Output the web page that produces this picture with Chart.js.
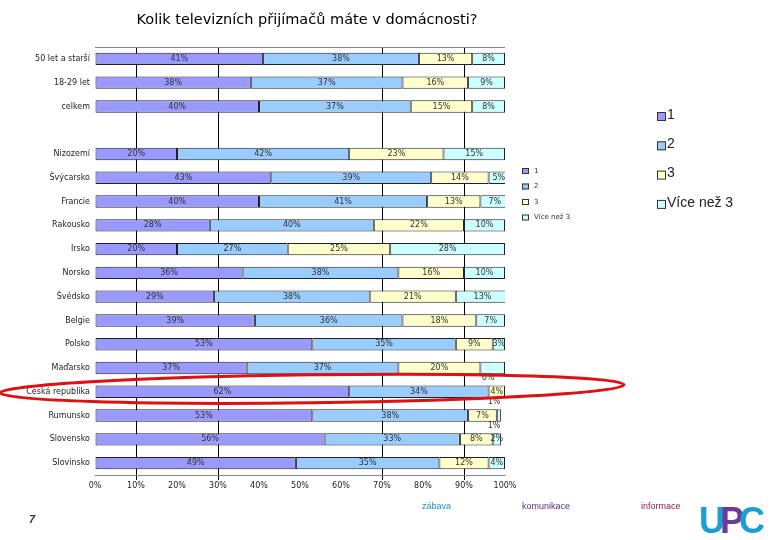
<!DOCTYPE html>
<html>
<head>
<meta charset="utf-8">
<script src="https://cdn.jsdelivr.net/npm/chart.js@4"></script>
<style>
  body { margin: 0; background: #fff; }
  #wrap { position: relative; width: 780px; height: 540px; }
  .foot { position: absolute; font: 9px "Liberation Sans Narrow", "Liberation Sans", sans-serif; }
  #logo { position: absolute; left: 699px; top: 500px; font: 900 36px "Liberation Sans", sans-serif; letter-spacing: -5px; }
</style>
</head>
<body>
<div id="wrap">
  <canvas id="tvchart" width="780" height="540"></canvas>
  <div class="foot" style="left:422px;top:501px;color:#1b94c4">zábava</div>
  <div class="foot" style="left:522px;top:501px;color:#5a2d82">komunikace</div>
  <div class="foot" style="left:641px;top:501px;color:#8c1d4f">informace</div>
  <div class="foot" style="left:29px;top:513px;color:#3b2a78;font:italic bold 11px 'Liberation Sans',sans-serif">7</div>
  <div id="logo"><span style="color:#1a9fd3">U</span><span style="color:#6b3b98">P</span><span style="color:#1a9fd3">C</span></div>
</div>
<script>
const categories = ['50 let a starší', '18-29 let', 'celkem', '', 'Nizozemí', 'Švýcarsko', 'Francie', 'Rakousko',
    'Irsko', 'Norsko', 'Švédsko', 'Belgie', 'Polsko', 'Maďarsko', 'Česká republika', 'Rumunsko', 'Slovensko', 'Slovinsko'];
const one   = [41, 38, 40, null, 20, 43, 40, 28, 20, 36, 29, 39, 53, 37, 62, 53, 56, 49];
const two   = [38, 37, 37, null, 42, 39, 41, 40, 27, 38, 38, 36, 35, 37, 34, 38, 33, 35];
const three = [13, 16, 15, null, 23, 14, 13, 22, 25, 16, 21, 18, 9, 20, 4, 7, 8, 12];
const more  = [8, 9, 8, null, 15, 5, 7, 10, 28, 10, 13, 7, 3, 6, 1, 1, 2, 4];
const seriesNames = ['1', '2', '3', 'Více než 3'];
const xTicks = [0, 10, 20, 30, 40, 50, 60, 70, 80, 90, 100];
const gridAt = [10, 30, 70, 90];
const labelBelow = ['Maďarsko', 'Česká republika', 'Rumunsko'];
const highlighted = 'Česká republika';

const colors = ['#9999ff', '#99ccff', '#ffffcc', '#ccffff'];

// percent labels inside the segments
const segmentLabels = {
    id: 'segmentLabels',
    afterDatasetsDraw(chart) {
        const c = chart.ctx;
        c.save();
        c.font = '8px "DejaVu Sans"';
        c.fillStyle = '#333';
        c.textAlign = 'center';
        c.textBaseline = 'middle';
        chart.data.datasets.forEach((ds, di) => {
            chart.getDatasetMeta(di).data.forEach((bar, i) => {
                const v = ds.data[i];
                if (v == null) return;
                let x = (bar.x + bar.base) / 2, y = bar.y;
                if (di === 3 && labelBelow.includes(categories[i])) {
                    x = Math.min(bar.x, 500) - (v > 3 ? 12 : 6);
                    y = bar.y + 10;
                }
                c.fillText(v + '%', x, y);
            });
        });
        c.restore();
    }
};

// title, top border, legends and the red ellipse
const extras = {
    id: 'extras',
    afterDraw(chart) {
        const c = chart.ctx, a = chart.chartArea;
        c.save();
        c.fillStyle = '#000';
        c.font = '14.5px "DejaVu Sans"';
        c.textAlign = 'center';
        c.textBaseline = 'middle';
        c.fillText('Kolik televizních přijímačů máte v domácnosti?', 307, 20);

        c.strokeStyle = '#888';
        c.lineWidth = 1;
        c.beginPath(); c.moveTo(a.left, a.top + 0.5); c.lineTo(a.right, a.top + 0.5); c.stroke();

        // small legend
        c.textAlign = 'left';
        c.font = '7px "DejaVu Sans"';
        seriesNames.forEach((n, i) => {
            const y = 171 + i * 15.5;
            c.fillStyle = colors[i];
            c.fillRect(522, y - 3, 7, 6);
            c.strokeStyle = '#333';
            c.strokeRect(522.5, y - 2.5, 6, 5);
            c.fillStyle = '#333';
            c.fillText(n, 534, y);
        });
        // big legend
        c.font = '14px "Liberation Sans"';
        seriesNames.forEach((n, i) => {
            const y = 116 + i * 29.3;
            c.fillStyle = colors[i];
            c.fillRect(657, y - 4, 9, 9);
            c.strokeStyle = '#333';
            c.strokeRect(657.5, y - 3.5, 8, 8);
            c.fillStyle = '#222';
            c.fillText(n, 667, y - 1);
        });

        // red ellipse round the highlighted row
        const yy = chart.scales.y.getPixelForValue(categories.indexOf(highlighted));
        c.strokeStyle = '#e01010';
        c.lineWidth = 3;
        c.beginPath();
        c.ellipse(312, yy - 3, 312, 14, -0.013, 0, Math.PI * 2);
        c.stroke();
        c.restore();
    }
};

const ds = [one, two, three, more].map((d, i) => ({
    label: seriesNames[i],
    data: d,
    backgroundColor: colors[i],
    borderColor: '#222',
    borderWidth: 1,
    borderSkipped: false,
    barPercentage: 0.52,
    categoryPercentage: 1
}));

new Chart(document.getElementById('tvchart').getContext('2d'), {
    type: 'bar',
    data: { labels: categories, datasets: ds },
    options: {
        indexAxis: 'y',
        responsive: false,
        animation: false,
        layout: { padding: { top: 47, right: 275, bottom: 50, left: 0 } },
        scales: {
            x: {
                stacked: true,
                min: 0,
                max: 100,
                afterBuildTicks: s => { s.ticks = xTicks.map(v => ({ value: v })); },
                afterFit: s => { s.height = 15; },
                ticks: {
                    callback: v => v + '%',
                    font: { family: 'DejaVu Sans', size: 8 },
                    color: '#222',
                    padding: 1,
                    maxRotation: 0
                },
                grid: {
                    color: ctx => gridAt.includes(ctx.tick && ctx.tick.value) ? '#000' : 'rgba(0,0,0,0)',
                    tickColor: ctx => gridAt.includes(ctx.tick && ctx.tick.value) ? '#000' : 'rgba(0,0,0,0)',
                    tickLength: 5
                },
                border: { color: '#888' }
            },
            y: {
                stacked: true,
                afterFit: s => { s.width = 95; },
                ticks: {
                    font: { family: 'DejaVu Sans', size: 8 },
                    color: '#222',
                    padding: 5,
                    autoSkip: false
                },
                grid: { display: false, drawTicks: false, tickLength: 0 },
                border: { display: false }
            }
        },
        plugins: {
            legend: { display: false },
            title: { display: false },
            tooltip: { enabled: false }
        }
    },
    plugins: [segmentLabels, extras]
});
</script>
</body>
</html>
